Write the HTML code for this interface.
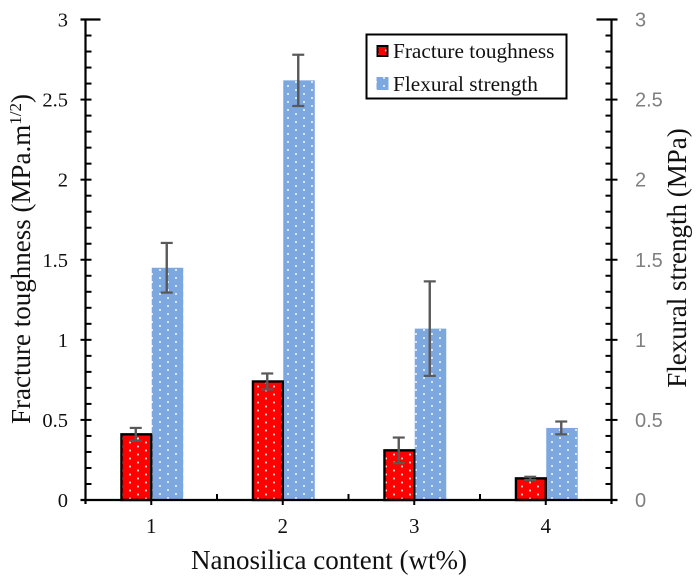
<!DOCTYPE html>
<html>
<head>
<meta charset="utf-8">
<style>
html,body{margin:0;padding:0;background:#fff;width:699px;height:580px;overflow:hidden}
svg{display:block}
.serif{font-family:"Liberation Serif",serif;fill:#111}
.sans{font-family:"Liberation Sans",sans-serif;fill:#7f7f7f}
</style>
</head>
<body>
<svg id="chart" width="699" height="580" viewBox="0 0 699 580" xmlns="http://www.w3.org/2000/svg">
<defs>
<pattern id="dots-red" width="16" height="8" patternUnits="userSpaceOnUse">
<rect width="16" height="8" fill="#ff0000"/>
<rect x="1.1" y="1.6" width="1.8" height="1.8" fill="#fff" opacity="0.9"/>
<rect x="9.1" y="5.6" width="1.8" height="1.8" fill="#fff" opacity="0.9"/>
</pattern>
<pattern id="dots-blue" width="16" height="8" patternUnits="userSpaceOnUse">
<rect width="16" height="8" fill="#7ca7df"/>
<rect x="7.1" y="1.1" width="1.8" height="1.8" fill="#eef4fb"/>
<rect x="15.1" y="5.1" width="0.9" height="1.8" fill="#eef4fb"/>
<rect x="0" y="5.1" width="0.9" height="1.8" fill="#eef4fb"/>
</pattern>
</defs>
<g id="bars"></g>
<g id="errors"></g>
<g id="axes"></g>
<g id="labels"></g>
<text class="serif" x="329" y="569" font-size="27" text-anchor="middle">Nanosilica content (wt%)</text>
<text class="serif" transform="translate(30,259) rotate(-90)" font-size="27" text-anchor="middle">Fracture toughness (MPa.m<tspan font-size="17" dy="-9">1/2</tspan><tspan dy="9">)</tspan></text>
<text class="serif" transform="translate(686,258) rotate(-90)" font-size="27" text-anchor="middle">Flexural strength (MPa)</text>
<g>
<rect x="366.5" y="34.5" width="200" height="64" fill="#fff" stroke="#000" stroke-width="2"/>
<rect x="377.5" y="46" width="10" height="10" fill="url(#dots-red)" stroke="#000" stroke-width="2"/>
<text class="serif" x="393" y="58" font-size="21.3">Fracture toughness</text>
<rect x="376.5" y="77" width="12" height="13" fill="url(#dots-blue)"/>
<text class="serif" x="393" y="91" font-size="21.3">Flexural strength</text>
</g>
</svg>
<script>
const categories = ["1", "2", "3", "4"];
const toughness = [0.41, 0.74, 0.31, 0.135];
const toughnessError = [0.04, 0.05, 0.08, 0.01];
const flexural = [1.45, 2.62, 1.07, 0.45];
const flexuralError = [0.155, 0.16, 0.295, 0.04];
const yTickLabels = ["0", "0.5", "1", "1.5", "2", "2.5", "3"];
const yTickValues = [0, 0.5, 1, 1.5, 2, 2.5, 3];

const NS = "http://www.w3.org/2000/svg";
const left = 85.5, right = 611.5, bottom = 500, top_ = 19.5, yMax = 3;
const barW = 31;
function yPos(v) { return bottom - (v / yMax) * (bottom - top_); }
function xCenter(i) { return left + (i + 0.5) * (right - left) / categories.length; }
function xEdge(i) { return left + i * (right - left) / categories.length; }
function make(tag, attrs, parent) {
  const el = document.createElementNS(NS, tag);
  for (const k in attrs) el.setAttribute(k, attrs[k]);
  parent.appendChild(el);
  return el;
}
function line(parent, name, x1, y1, x2, y2, stroke, width) {
  const el = make("line", { x1: x1, y1: y1, x2: x2, y2: y2, stroke: stroke, "stroke-width": width }, parent);
  
  
  return el;
}
const barsG = document.getElementById("bars");
const errG = document.getElementById("errors");
const axesG = document.getElementById("axes");
const labelsG = document.getElementById("labels");

categories.forEach(function (c, i) {
  const cx = xCenter(i);
  const b = make("rect", { x: cx + 0.5, y: yPos(flexural[i]), width: barW + 0.5, height: bottom - yPos(flexural[i]), fill: "url(#dots-blue)" }, barsG);
  
  
  const r = make("rect", { x: cx - barW + 1.2, y: yPos(toughness[i]), width: barW - 1.2, height: bottom - yPos(toughness[i]), fill: "url(#dots-red)", stroke: "#000", "stroke-width": 2.4 }, barsG);
  
  
  [[cx - barW / 2, toughness[i], toughnessError[i], 'fracture-toughness'], [cx + barW / 2, flexural[i], flexuralError[i], 'flexural-strength']].forEach(function (e) {
    const hi = yPos(e[1] + e[2]), lo = yPos(e[1] - e[2]);
    line(errG, e[3] + '-error-stem-' + c, e[0], hi, e[0], lo, "#595959", 2.4);
    line(errG, e[3] + '-error-cap-top-' + c, e[0] - 6, hi, e[0] + 6, hi, "#595959", 2.2);
    line(errG, e[3] + '-error-cap-bottom-' + c, e[0] - 6, lo, e[0] + 6, lo, "#595959", 2.2);
  });
  line(axesG, 'x-major-tick-' + c, cx, bottom, cx, bottom + 5, "#000", 2);
  const t = make("text", { x: cx, y: 533, "font-size": 21, "text-anchor": "middle", class: "serif" }, labelsG);
  t.textContent = c;
  
  
});
for (let i = 1; i < categories.length; i++) {
  line(axesG, 'x-minor-tick-' + i, xEdge(i), bottom, xEdge(i), bottom - 6, "#000", 2);
}
line(axesG, 'x-axis-line', left - 5, bottom, right + 6, bottom, "#000", 2.2);
line(axesG, 'left-y-axis-line', left, top_ - 1, left, bottom + 4, "#000", 2.2);
line(axesG, 'right-y-axis-line', right, top_ - 1, right, bottom + 4, "#000", 2.2);
line(axesG, 'top-left-axis-cap', left - 5, top_, left + 15, top_, "#000", 2.2);
line(axesG, 'top-right-axis-cap', right - 15, top_, right + 6, top_, "#000", 2.2);

for (let k = 1; k < 30; k++) {
  const v = k / 10, y = yPos(v);
  if (k % 5 === 0) {
    line(axesG, 'left-major-tick', left - 5, y, left + 6, y, "#000", 2);
    line(axesG, 'right-major-tick', right - 6, y, right + 6, y, "#000", 2);
  } else {
    line(axesG, 'left-minor-tick', left, y, left + 6, y, "#000", 2);
    line(axesG, 'right-minor-tick', right - 6, y, right, y, "#000", 2);
  }
}
yTickValues.forEach(function (v, i) {
  const y = yPos(v) + 7;
  const lt = make("text", { x: 68, y: y, "font-size": 20.5, "text-anchor": "end", class: "serif" }, labelsG);
  lt.textContent = yTickLabels[i];
  
  
  const rt = make("text", { x: 635, y: y, "font-size": 20, class: "sans" }, labelsG);
  rt.textContent = yTickLabels[i];
  
  
});
</script>
</body>
</html>
